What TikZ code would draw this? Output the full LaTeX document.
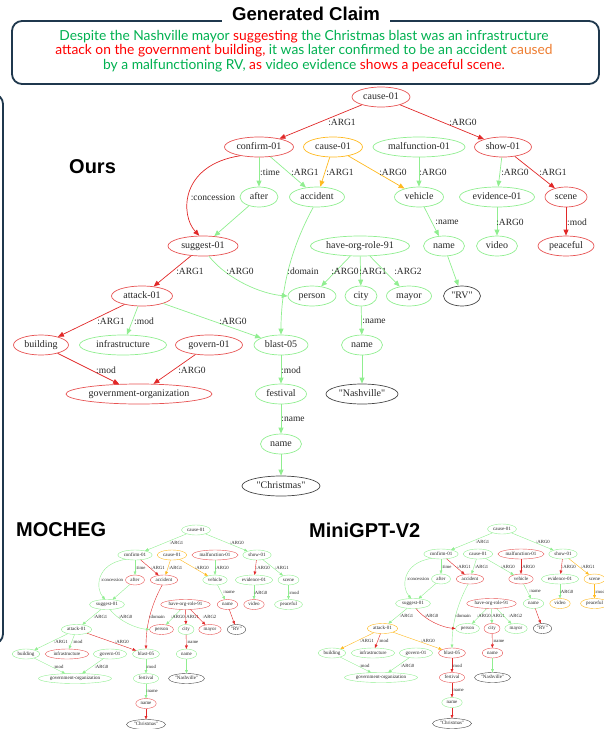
\documentclass[tikz,border=0pt]{standalone}
\usepackage{fontspec}
\setmainfont{Liberation Serif}
\newfontfamily\amrfont{Liberation Serif}
\newfontfamily\headfont{Liberation Sans}
\newfontfamily\claimfont{Lato}
\usetikzlibrary{shapes.geometric,arrows.meta}

\definecolor{frameblue}{RGB}{31,56,77}
\definecolor{txtgreen}{RGB}{0,176,80}
\definecolor{txtred}{RGB}{255,0,0}
\definecolor{txtorange}{RGB}{237,125,49}
\definecolor{amrR}{RGB}{225,40,40}
\definecolor{amrG}{RGB}{144,238,144}
\definecolor{amrO}{RGB}{255,185,30}
\definecolor{amrK}{RGB}{70,70,70}

% per-graph colouring: \setcols{nc}{r,g,...} defines nc1, nc2, ... as amrnc-r, amrnc-g, ...
\makeatletter
\newcount\amrk
\newcommand\setcols[2]{%
  \amrk=0
  \@for\amrc:=#2\do{%
    \advance\amrk by 1
    \edef\amrtmp{\noexpand\tikzset{#1\the\amrk/.style={amr#1-\amrc}}}%
    \amrtmp}}
\makeatother

\newcommand\G{\color{txtgreen}}
\newcommand\R{\color{txtred}}
\newcommand\Or{\color{txtorange}}

\def\amrlw{0.7pt}

% the AMR graph, in the coordinates of the full-size panel
\newcommand\amrgraph{%
\node[amr,nc1,minimum width=58pt] (cause) at (381,97) {cause-01};
\node[amr,nc2,minimum width=69pt] (confirm) at (259,147) {confirm-01};
\node[amr,nc3,minimum width=59pt] (causeb) at (333,147) {cause-01};
\node[amr,nc4,minimum width=92pt] (malf) at (419,147) {malfunction-01};
\node[amr,nc5,minimum width=57pt] (show) at (503,147) {show-01};
\node[amr,nc6,minimum width=38pt] (after) at (259,197) {after};
\node[amr,nc7,minimum width=55pt] (accident) at (317,197) {accident};
\node[amr,nc8,minimum width=49pt] (vehicle) at (419,197) {vehicle};
\node[amr,nc9,minimum width=75pt] (evidence) at (497,197) {evidence-01};
\node[amr,nc10,minimum width=42pt] (scene) at (566,197) {scene};
\node[amr,nc11,minimum width=70pt] (suggest) at (203,246) {suggest-01};
\node[amr,nc12,minimum width=99pt] (hor) at (360,246) {have-org-role-91};
\node[amr,nc13,minimum width=41pt] (vname) at (444,246) {name};
\node[amr,nc14,minimum width=41pt] (video) at (497,246) {video};
\node[amr,nc15,minimum width=56pt] (peaceful) at (566,246) {peaceful};
\node[amr,nc16,minimum width=61pt] (attack) at (142,296) {attack-01};
\node[amr,nc17,minimum width=48pt] (person) at (312,296) {person};
\node[amr,nc18,minimum width=32pt] (city) at (361,296) {city};
\node[amr,nc19,minimum width=45pt] (mayor) at (409,296) {mayor};
\node[amr,nc20,minimum width=37pt] (rv) at (462,296) {"RV"};
\node[amr,nc21,minimum width=55pt] (building) at (41,345) {building};
\node[amr,nc22,minimum width=87pt] (infra) at (123,345) {infrastructure};
\node[amr,nc23,minimum width=67pt] (govern) at (209,345) {govern-01};
\node[amr,nc24,minimum width=54pt] (blast) at (281,345) {blast-05};
\node[amr,nc25,minimum width=41pt] (cname) at (362,345) {name};
\node[amr,nc26,minimum width=146pt] (govorg) at (139,394) {government-organization};
\node[amr,nc27,minimum width=51pt] (festival) at (281,394) {festival};
\node[amr,nc28,minimum width=72pt] (nashville) at (362,394) {"Nashville"};
\node[amr,nc29,minimum width=41pt] (fname) at (281,444) {name};
\node[amr,nc30,minimum width=78pt] (christmas) at (281,486) {"Christmas"};
%
\draw[amre,ec1] (cause) -- (confirm) node[lbl] (l1) at (342,122) {:ARG1};
\draw[amre,ec2] (cause) -- (show) node[lbl] (l2) at (463,122) {:ARG0};
\draw[amre,ec3] (confirm.205) .. controls (180,165) and (180,215) .. (suggest.110)
  node[lbl] (l3) at (213,197) {:concession};
\draw[amre,ec4] (confirm) -- (after) node[lbl] (l4) at (270,172) {:time};
\draw[amre,ec5] (confirm) -- (accident) node[lbl] (l5) at (305,172) {:ARG1};
\draw[amre,ec6] (after) -- (suggest);
\draw[amre,ec7] (causeb) -- (accident) node[lbl] (l7) at (340,172) {:ARG1};
\draw[amre,ec8] (causeb) -- (vehicle) node[lbl] (l8) at (393,172) {:ARG0};
\draw[amre,ec9] (malf) -- (vehicle) node[lbl] (l9) at (433,172) {:ARG0};
\draw[amre,ec10] (show) -- (evidence) node[lbl] (l10) at (515,172) {:ARG0};
\draw[amre,ec11] (show) -- (scene) node[lbl] (l11) at (553,172) {:ARG1};
\draw[amre,ec12] (vehicle) -- (vname) node[lbl] (l12) at (447,222) {:name};
\draw[amre,ec13] (evidence) -- (video) node[lbl] (l13) at (510,222) {:ARG0};
\draw[amre,ec14] (scene) -- (peaceful) node[lbl] (l14) at (577,222) {:mod};
\draw[amre,ec15] (accident.250) .. controls (290,250) and (281,290) .. (blast.north)
  node[lbl] (l15) at (303,271) {:domain};
\draw[amre,ec16] (suggest) -- (attack) node[lbl] (l16) at (190,271) {:ARG1};
\draw[amre,ec17] (suggest.300) .. controls (228,280) and (262,294) .. (person.west)
  node[lbl] (l17) at (240,271) {:ARG0};
\draw[amre,ec18] (hor) -- (person) node[lbl] (l18) at (345,271) {:ARG0};
\draw[amre,ec19] (hor) -- (city) node[lbl] (l19) at (373,271) {:ARG1};
\draw[amre,ec20] (hor) -- (mayor) node[lbl] (l20) at (408,271) {:ARG2};
\draw[amre,ec21] (vname) -- (rv);
\draw[amre,ec22] (attack) -- (building) node[lbl] (l22) at (111,321) {:ARG1};
\draw[amre,ec23] (attack) -- (infra) node[lbl] (l23) at (144,321) {:mod};
\draw[amre,ec24] (attack) -- (blast) node[lbl] (l24) at (233,321) {:ARG0};
\draw[amre,ec25] (building) -- (govorg) node[lbl] (l25) at (106,370) {:mod};
\draw[amre,ec26] (govern) -- (govorg) node[lbl] (l26) at (192,370) {:ARG0};
\draw[amre,ec27] (blast) -- (festival) node[lbl] (l27) at (291,370) {:mod};
\draw[amre,ec28] (city) -- (cname) node[lbl] (l28) at (374,321) {:name};
\draw[amre,ec29] (cname) -- (nashville);
\draw[amre,ec30] (festival) -- (fname) node[lbl] (l30) at (293,419) {:name};
\draw[amre,ec31] (fname) -- (christmas);
}

\begin{document}
\begin{tikzpicture}[x=1pt,y=-1pt,
  frame/.style={draw=frameblue,line width=1.8pt},
  claimline/.style={anchor=base,inner sep=0pt,font=\claimfont\fontsize{13.8}{15}\selectfont},
  panelhead/.style={anchor=west,inner sep=0pt,font=\headfont\bfseries\fontsize{20}{22}\selectfont},
  amr/.style={ellipse,draw,line width=\amrlw,inner xsep=0pt,inner ysep=0pt,
    minimum height=20pt,text height=7pt,text depth=2pt,
    font=\amrfont\fontsize{10}{12}\selectfont,text=black!85},
  lbl/.style={inner sep=0pt,font=\amrfont\fontsize{9.5}{11}\selectfont,text=black!85},
  amre/.style={line width=\amrlw,-{Triangle[length=0pt 8.5,width=0pt 7]}},
  amrnc-r/.style={draw=amrR!80},
  amrnc-g/.style={draw=amrG},
  amrnc-o/.style={draw=amrO},
  amrnc-k/.style={draw=amrK},
  amrec-r/.style={draw=amrR},
  amrec-g/.style={draw=amrG},
  amrec-o/.style={draw=amrO},
]
\useasboundingbox (0,0) rectangle (604,729);
\clip (0,0) rectangle (604,729);

% claim frame with its heading
\draw[frame,rounded corners=10pt] (12,21) rectangle (599,84);
\node[fill=white,inner xsep=10pt,inner ysep=2pt,font=\headfont\bfseries\fontsize{18.6}{21}\selectfont]
  (title) at (306,14) {Generated Claim};
\node[claimline] (line1) at (304,40)
  {{\G Despite the Nashville mayor }{\R suggesting}{\G{} the Christmas blast was an infrastructure}};
\node[claimline] (line2) at (304,54.5)
  {{\R attack on the government building,}{\G{} it was later confirmed to be an accident }{\Or caused}};
\node[claimline] (line3) at (304,69)
  {{\G by a malfunctioning RV, }{\R as}{\G{} video evidence }{\R shows a peaceful scene.}};

% right edge of the neighbouring panel
\draw[frame,rounded corners=10pt] (-60,94) rectangle (3,644);

% panel headings
\node[panelhead] (ours) at (69,167) {Ours};
\node[panelhead] (mocheg) at (16,530) {MOCHEG};
\node[panelhead] (minigpt) at (309,530) {MiniGPT-V2};

% full-size graph
\begin{scope}
  \def\amrlw{0.7pt}
  \setcols{nc}{r,r,o,g,r,g,g,g,g,r,r,g,g,g,r,r,g,g,g,k,r,g,r,g,g,r,g,k,g,k}
  \setcols{ec}{r,r,r,g,g,g,o,o,g,g,r,g,g,r,g,r,g,g,g,g,g,r,g,g,r,r,g,g,g,g,g}
  \amrgraph
\end{scope}

% reduced graph, lower left
\begin{scope}[shift={(5.5,481.5)},scale=0.5,every node/.append style={transform shape}]
  \def\amrlw{0.4pt}
  \setcols{nc}{g,g,o,r,g,r,r,g,g,g,g,r,r,r,g,g,r,g,r,k,g,r,g,g,g,g,g,k,r,k}
  \setcols{ec}{g,g,g,g,r,g,o,o,g,r,g,g,g,g,r,g,g,g,r,r,r,g,g,r,g,g,g,r,g,g,r}
  \amrgraph
\end{scope}

% reduced graph, lower right
\begin{scope}[shift={(311.5,480.5)},scale=0.5,every node/.append style={transform shape}]
  \def\amrlw{0.4pt}
  \setcols{nc}{g,g,g,r,g,g,r,r,g,o,g,r,g,o,o,o,g,r,g,k,g,g,g,r,r,g,r,k,g,k}
  \setcols{ec}{g,g,g,g,r,g,g,g,r,r,o,g,g,o,g,g,r,g,g,g,r,o,r,o,g,g,r,r,g,r,r}
  \amrgraph
\end{scope}
\end{tikzpicture}
\end{document}
